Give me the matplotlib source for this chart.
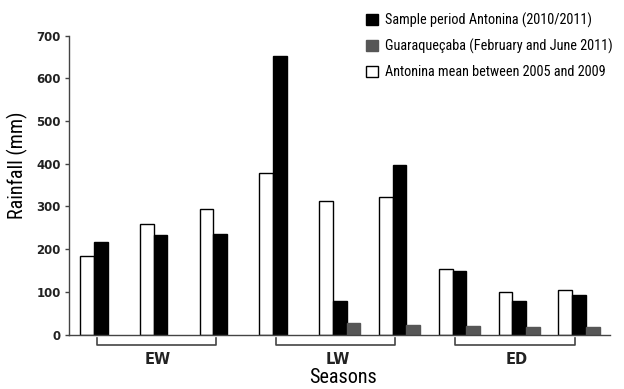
import numpy as np
import matplotlib
matplotlib.use("Agg")
from matplotlib import pyplot as plt

# rainfall per sampling month (mm), 3 months per season
seasons = ["EW", "LW", "ED"]
antonina_mean = [185, 258, 293, 378, 312, 322, 154, 99, 104]
antonina_sample = [217, 232, 235, 652, 79, 396, 148, 79, 93]
guaraquecaba = [np.nan, np.nan, np.nan, np.nan, 26, 23, 20, 17, 17]
yticks = [0, 100, 200, 300, 400, 500, 600, 700]

narrow = ["Roboto Condensed", "Liberation Sans", "DejaVu Sans"]

fig = plt.figure(figsize=(6.24, 3.89), dpi=100)
ax = fig.add_axes([0.1106, 0.1400, 0.8670, 0.7682])

x = np.arange(len(antonina_mean))
w = 0.23
ax.bar(x - w, antonina_mean, w, color="white", edgecolor="black", linewidth=1.0,
       label="Antonina mean between 2005 and 2009")
ax.bar(x, antonina_sample, w, color="black", edgecolor="black", linewidth=1.0,
       label="Sample period Antonina (2010/2011)")
ax.bar(x + w, guaraquecaba, w, color="#565656", edgecolor="#565656", linewidth=1.0,
       label="Guaraqueçaba (February and June 2011)")

ax.set_xlim(-0.53, 8.52)
ax.set_ylim(0, 700)
ax.set_yticks(yticks)
ax.set_xticks([])
ax.tick_params(axis="y", length=3, width=1, color="#444444", pad=3)
for lab in ax.get_yticklabels():
    lab.set_fontweight("bold")
    lab.set_fontsize(8.5)
    lab.set_color("#222222")
for s in ["top", "right"]:
    ax.spines[s].set_visible(False)
for s in ["left", "bottom"]:
    ax.spines[s].set_color("#444444")
    ax.spines[s].set_linewidth(1.0)

# season brackets under the axis
for i, name in enumerate(seasons):
    x0 = 3 * i - 0.07
    x1 = 3 * i + 1.93
    ax.plot([x0, x0, x1, x1], [-8, -24, -24, -8], color="#444444", lw=1.2,
            clip_on=False)
    ax.text((x0 + x1) / 2 + 0.03, -58, name, ha="center", va="center",
            fontsize=10.5, fontweight="bold", color="#222222")

fig.text(0.55, 0.03, "Seasons", ha="center", va="center", fontsize=14.5,
         family=narrow)
fig.text(0.028, 0.575, "Rainfall (mm)", ha="center", va="center", rotation=90,
         fontsize=14.5, family=narrow)

h, l = ax.get_legend_handles_labels()
order = [1, 2, 0]
ax.legend([h[k] for k in order], [l[k] for k in order], loc="upper left",
          bbox_to_anchor=(0.572, 0.99), bbox_transform=fig.transFigure,
          frameon=False, prop={"family": narrow, "size": 10.3},
          handlelength=0.9, handleheight=0.8, handletextpad=0.45,
          labelspacing=0.78, borderaxespad=0.2)

fig.savefig("out.png", dpi=100)
